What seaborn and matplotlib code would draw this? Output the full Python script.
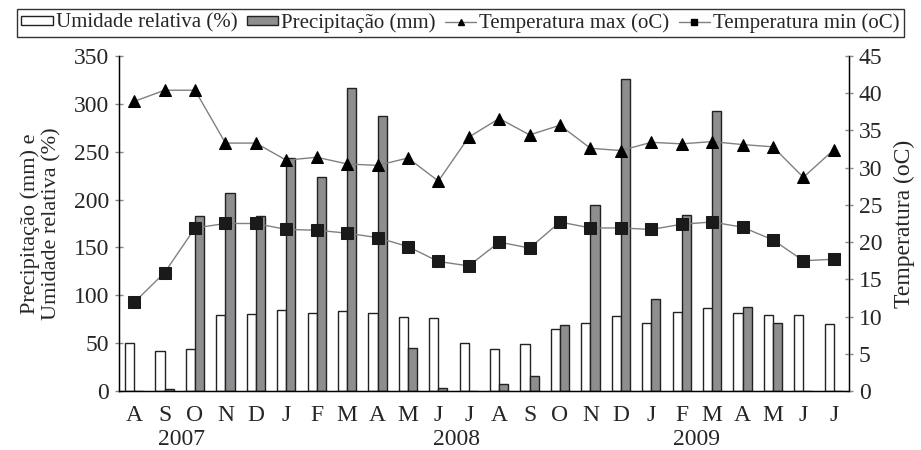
import matplotlib
matplotlib.use("Agg")
import matplotlib.pyplot as plt
import matplotlib.transforms as mtransforms
from matplotlib.patches import Patch
from matplotlib.lines import Line2D
import seaborn as sns
import pandas as pd
import numpy as np

months = ["A", "S", "O", "N", "D", "J", "F", "M", "A", "M", "J", "J",
          "A", "S", "O", "N", "D", "J", "F", "M", "A", "M", "J", "J"]
years = ["2007", "2008", "2009"]
year_pos = [1.55, 10.6, 18.5]

umidade = [50, 42, 44, 79, 80, 85, 82, 84, 81, 77, 76, 50,
           44, 49, 65, 71, 78, 71, 83, 87, 82, 79, 79, 70]
precip = [0, 2, 183, 207, 183, 243, 224, 317, 287, 45, 3, 0,
          7, 16, 69, 194, 326, 96, 184, 293, 88, 71, 0, 0]
tmax = [38.9, 40.4, 40.4, 33.3, 33.3, 31.0, 31.4, 30.5, 30.3, 31.3, 28.2, 34.1,
        36.6, 34.4, 35.7, 32.6, 32.3, 33.4, 33.2, 33.5, 33.1, 32.8, 28.7, 32.4]
tmin = [11.9, 15.9, 21.9, 22.5, 22.5, 21.7, 21.6, 21.2, 20.6, 19.4, 17.4, 16.8,
        20.0, 19.2, 22.7, 21.9, 21.9, 21.7, 22.4, 22.7, 22.0, 20.3, 17.5, 17.7]

lab_um = "Umidade relativa (%)"
lab_pr = "Precipitação (mm)"
lab_tx = "Temperatura max (oC)"
lab_tn = "Temperatura min (oC)"

sns.set_style("white")
plt.rcParams["font.family"] = ["Liberation Serif", "DejaVu Serif"]

n = len(months)
keys = [f"{i:02d}" for i in range(n)]
df = pd.DataFrame({
    "key": keys * 2,
    "valor": umidade + precip,
    "serie": [lab_um] * n + [lab_pr] * n,
})

fig = plt.figure(figsize=(9.21, 4.5), dpi=100)
ax = fig.add_axes([0.1292, 0.1311, 0.7926, 0.7445])

sns.barplot(data=df, x="key", y="valor", hue="serie", order=keys,
            hue_order=[lab_um, lab_pr], palette=["white", "#8e8e90"],
            width=0.6, gap=0, edgecolor="#222222", linewidth=1.0,
            legend=False, ax=ax)

ax.set_xlim(-0.5, n - 0.5)
ax.set_ylim(0, 350)
ax.set_yticks(np.arange(0, 351, 50))
ax.set_xticks(range(n))
ax.set_xticklabels(months)
ax.set_xticks(np.arange(0.5, n - 0.5, 1), minor=True)
ax.tick_params(axis="x", which="major", length=0, pad=10, labelsize=17)
ax.tick_params(axis="x", which="minor", length=6, direction="inout", color="#888888", width=1)
ax.tick_params(axis="y", length=6, direction="inout", color="#888888", width=1, labelsize=17, pad=4)
ax.set_xlabel("")
ax.set_ylabel("Precipitação (mm) e\nUmidade relativa (%)", fontsize=16, labelpad=9, linespacing=1.15)
ax.spines["top"].set_visible(False)
for s in ["left", "bottom", "right"]:
    ax.spines[s].set_color("black")
    ax.spines[s].set_linewidth(1.0)

ax2 = ax.twinx()
x = np.arange(n)
sns.lineplot(x=x, y=tmax, ax=ax2, color="#808080", linewidth=1.0,
             marker="^", markersize=8, markerfacecolor="black",
             markeredgecolor="black")
sns.lineplot(x=x, y=tmin, ax=ax2, color="#808080", linewidth=1.0,
             marker="s", markersize=8, markerfacecolor="#1a1a1a",
             markeredgecolor="#1a1a1a")
ax2.set_ylim(0, 45)
ax2.set_yticks(np.arange(0, 46, 5))
ax2.set_xlim(-0.5, n - 0.5)
ax2.tick_params(axis="y", length=6, direction="inout", color="#888888", width=1, labelsize=17, pad=4)
ax2.set_ylabel("Temperatura (oC)", fontsize=17, labelpad=8)
ax2.spines["top"].set_visible(False)
for s in ["left", "bottom", "right"]:
    ax2.spines[s].set_color("black")

trans = mtransforms.blended_transform_factory(ax.transData, ax.transAxes)
for yr, xp in zip(years, year_pos):
    ax.text(xp, -0.145, yr, transform=trans, ha="center", va="center", fontsize=17)

handles = [
    Patch(facecolor="white", edgecolor="#222222", linewidth=1.0),
    Patch(facecolor="#8e8e90", edgecolor="#222222", linewidth=1.0),
    Line2D([0], [0], color="#808080", lw=1.0, marker="^", markersize=5,
           markerfacecolor="black", markeredgecolor="black"),
    Line2D([0], [0], color="#808080", lw=1.0, marker="s", markersize=5,
           markerfacecolor="black", markeredgecolor="black"),
]
leg = fig.legend(handles, [lab_um, lab_pr, lab_tx, lab_tn], loc="upper center",
                 bbox_to_anchor=(0.5, 0.98), ncol=4, frameon=True, fancybox=False,
                 edgecolor="black", fontsize=15, handlelength=1.5, handleheight=0.35,
                 handletextpad=0.15, columnspacing=0.45, borderpad=0.2,
                 borderaxespad=0)
leg.get_frame().set_linewidth(1.0)

fig.savefig("out.png", dpi=100)
